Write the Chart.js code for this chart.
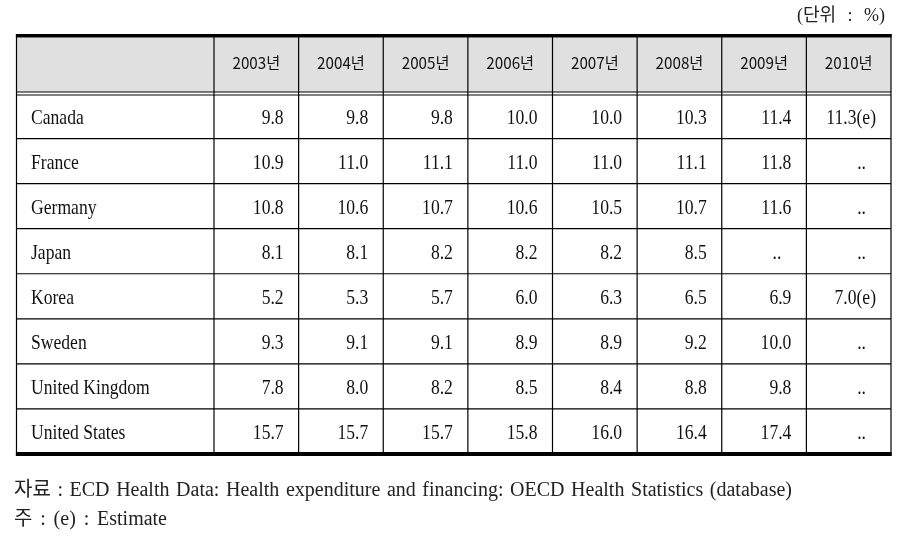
<!DOCTYPE html>
<html><head><meta charset="utf-8">
<script src="https://cdn.jsdelivr.net/npm/chart.js@4"></script>
<style>html,body{margin:0;padding:0;background:#fff;overflow:hidden}</style>
</head><body>
<canvas id="c" width="899" height="555"></canvas>
<script>
// ---- data ----
const years = ['2003년','2004년','2005년','2006년','2007년','2008년','2009년','2010년'];
const countries = ['Canada','France','Germany','Japan','Korea','Sweden','United Kingdom','United States'];
const canada  = [9.8, 9.8, 9.8, 10.0, 10.0, 10.3, 11.4, 11.3];
const france  = [10.9, 11.0, 11.1, 11.0, 11.0, 11.1, 11.8, null];
const germany = [10.8, 10.6, 10.7, 10.6, 10.5, 10.7, 11.6, null];
const japan   = [8.1, 8.1, 8.2, 8.2, 8.2, 8.5, null, null];
const korea   = [5.2, 5.3, 5.7, 6.0, 6.3, 6.5, 6.9, 7.0];
const sweden  = [9.3, 9.1, 9.1, 8.9, 8.9, 9.2, 10.0, null];
const uk      = [7.8, 8.0, 8.2, 8.5, 8.4, 8.8, 9.8, null];
const us      = [15.7, 15.7, 15.7, 15.8, 16.0, 16.4, 17.4, null];
const estimated = [['Canada','2010년'], ['Korea','2010년']];
const missingMark = '..';
const unitWords = ['(단위', ':', '%)'];
const sourceWords = ['자료',':','ECD','Health','Data:','Health','expenditure','and','financing:','OECD','Health','Statistics','(database)'];
const noteWords = ['주', ':', '(e)', ':', 'Estimate'];

const series = [canada, france, germany, japan, korea, sweden, uk, us];

// ---- layout / style constants ----
const FIRST_COL = 197.5;
const HEADER_H = 59.5;
const SERIF = '"Liberation Serif", "Noto Sans CJK KR", serif';
const CELL_FONT = '22px ' + SERIF;
const CELL_SCALE = 0.8;
const HEAD_FONT = '16px "Noto Sans CJK KR", "Noto Sans", sans-serif';

function isEst(c, yr){ return estimated.some(e => e[0] === c && e[1] === yr); }

function drawScaled(ctx, text, x, y, align, sx){
  ctx.save();
  ctx.translate(x, y);
  ctx.scale(sx, 1);
  ctx.textAlign = align;
  ctx.fillText(text, 0, 0);
  ctx.restore();
}

function justify(ctx, words, x0, x1, yb){
  ctx.textAlign = 'left';
  const widths = words.map(w => ctx.measureText(w).width);
  const tot = widths.reduce((s, w) => s + w, 0);
  const gap = (x1 - x0 - tot) / (words.length - 1);
  let cx = x0;
  words.forEach((w, i) => { ctx.fillText(w, cx, yb); cx += widths[i] + gap; });
}

const tablePlugin = {
  id: 'table',
  beforeDatasetsDraw(chart){
    const {ctx, chartArea: a, scales: {x, y}} = chart;
    const left = a.left - FIRST_COL;
    const right = a.right;
    const top = a.top - HEADER_H;
    const bottom = a.bottom;
    const colW = x.width / years.length;
    const rowH = y.height / countries.length;
    ctx.save();
    // header background
    ctx.fillStyle = '#e0e0e0';
    ctx.fillRect(left, top + 3.5, right - left, a.top - 1.5 - (top + 3.5));
    ctx.strokeStyle = '#000';
    ctx.lineWidth = 1.2;
    // vertical lines
    const vx = [left];
    years.forEach((_, i) => vx.push(x.getPixelForValue(i) - colW / 2));
    vx.push(right);
    vx.forEach(px => {
      ctx.beginPath(); ctx.moveTo(px, top); ctx.lineTo(px, bottom + 2); ctx.stroke();
    });
    // double line under header
    [a.top - 1.5, a.top + 1.5].forEach(py => {
      ctx.beginPath(); ctx.moveTo(left, py); ctx.lineTo(right, py); ctx.stroke();
    });
    // row separators
    for (let i = 1; i < countries.length; i++) {
      const py = y.getPixelForValue(i) - rowH / 2;
      ctx.beginPath(); ctx.moveTo(left, py); ctx.lineTo(right, py); ctx.stroke();
    }
    // thick top & bottom
    ctx.fillStyle = '#000';
    ctx.fillRect(left - 0.6, top, right - left + 1.2, 3.5);
    ctx.fillRect(left - 0.6, bottom - 2, right - left + 1.2, 4);

    // header texts
    ctx.fillStyle = '#111';
    ctx.font = HEAD_FONT;
    ctx.textBaseline = 'alphabetic';
    const hc = (top + 3.5 + a.top - 1.5) / 2;
    years.forEach((yr, i) => drawScaled(ctx, yr, x.getPixelForValue(i), hc + 4.5, 'center', 0.95));

    // country names
    ctx.font = CELL_FONT;
    countries.forEach((c, i) => drawScaled(ctx, c, left + 14.5, y.getPixelForValue(i) + 8, 'left', CELL_SCALE));

    // unit text
    ctx.font = '18px ' + SERIF;
    ctx.fillStyle = '#222';
    justify(ctx, unitWords, right - 94, right - 6, 21);

    // source & note lines, justified
    ctx.font = '20px ' + SERIF;
    justify(ctx, sourceWords, left - 2.5, 792, 495.5);
    justify(ctx, noteWords, left - 2.5, 167, 524.5);
    ctx.restore();
  },
  afterDatasetsDraw(chart){
    const {ctx, scales: {x}} = chart;
    const colW = x.width / years.length;
    ctx.save();
    ctx.font = CELL_FONT;
    ctx.fillStyle = '#111';
    ctx.textBaseline = 'alphabetic';
    chart.data.datasets.forEach((ds, di) => {
      const meta = chart.getDatasetMeta(di);
      meta.data.forEach((el, j) => {
        const d = ds.data[j];
        const cellRight = el.x + colW / 2;
        if (d.v === null) {
          drawScaled(ctx, missingMark, cellRight - 25, el.y + 8, 'right', CELL_SCALE);
        } else {
          const t = d.v.toFixed(1) + (isEst(d.y, d.x) ? '(e)' : '');
          drawScaled(ctx, t, cellRight - 15, el.y + 8, 'right', CELL_SCALE);
        }
      });
    });
    ctx.restore();
  }
};

new Chart(document.getElementById('c'), {
  type: 'line',
  data: {
    labels: years,
    datasets: countries.map((c, ci) => ({
      label: c,
      data: years.map((yr, i) => ({ x: yr, y: c, v: series[ci][i] })),
      showLine: false,
      pointRadius: 0,
      pointHoverRadius: 0
    }))
  },
  options: {
    responsive: false,
    devicePixelRatio: 1,
    animation: false,
    events: [],
    layout: { padding: { left: 214, right: 8, top: 93.5, bottom: 101 } },
    plugins: { legend: { display: false }, tooltip: { enabled: false } },
    scales: {
      x: { type: 'category', labels: years, offset: true, display: false },
      y: { type: 'category', labels: countries, offset: true, display: false }
    }
  },
  plugins: [tablePlugin]
});
</script>
</body></html>
